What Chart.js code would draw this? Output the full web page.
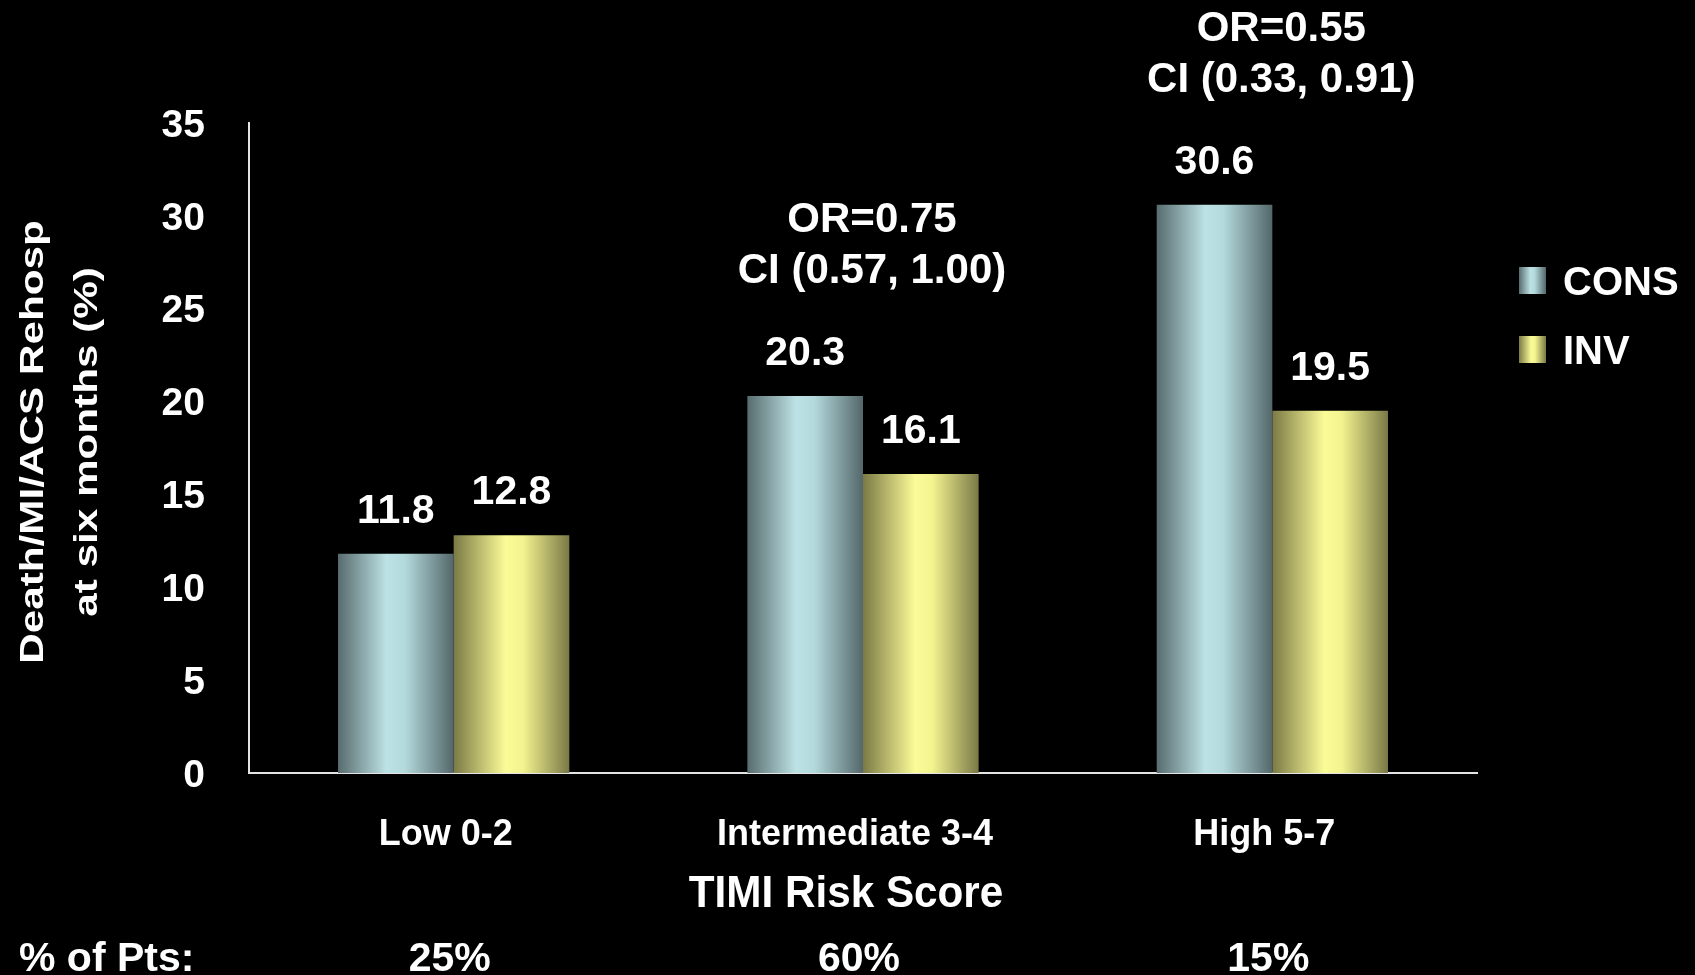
<!DOCTYPE html>
<html>
<head>
<meta charset="utf-8">
<title>TIMI Risk Score – Death/MI/ACS Rehosp</title>
<script src="https://cdn.jsdelivr.net/npm/chart.js@4.4.1/dist/chart.umd.min.js"></script>
<style>
  html, body { margin: 0; padding: 0; background: #000; }
  #wrap { width: 1695px; height: 975px; }
</style>
</head>
<body>
<div id="wrap"><canvas id="chart" width="1695" height="975"></canvas></div>
<script>
// ---- data ----
const categories = ['Low 0-2', 'Intermediate 3-4', 'High 5-7'];
const seriesNames = ['CONS', 'INV'];
const consValues = [11.8, 20.3, 30.6];
const invValues = [12.8, 16.1, 19.5];
const yMin = 0, yMax = 35, yStep = 5;
const oddsRatios = ['', 'OR=0.75', 'OR=0.55'];
const confIntervals = ['', 'CI (0.57, 1.00)', 'CI (0.33, 0.91)'];
const patientShare = ['25%', '60%', '15%'];
const shareLabel = '% of Pts:';
const xTitle = 'TIMI Risk Score';
const yTitleLines = ['Death/MI/ACS Rehosp', 'at six months (%)'];

// ---- styling ----
const FONT = '"Liberation Sans", Arial, Helvetica, sans-serif';
const AXIS_COLOR = '#e4e4e4';
const BAR_FRACTION = 0.565;
const shades = {
  CONS: [[0, '#586c6e'], [0.42, '#bde2e5'], [0.58, '#b3d9dc'], [1, '#54676a']],
  INV:  [[0, '#7b7a45'], [0.45, '#fbfb98'], [0.6, '#f3f38f'], [1, '#7a7947']]
};

function hGradient(ctx, x0, x1, stops) {
  const g = ctx.createLinearGradient(x0, 0, x1, 0);
  stops.forEach(([o, c]) => g.addColorStop(o, c));
  return g;
}

// horizontal cylinder-like shading per bar, computed from the category scale
function barFill(context) {
  const chart = context.chart;
  const stops = shades[seriesNames[context.datasetIndex]];
  const x = chart.scales && chart.scales.x;
  if (!chart.chartArea || !x || !x.width || context.dataIndex === undefined) return stops[1][1];
  const center = x.getPixelForValue(context.dataIndex);
  const groupW = (x.width / categories.length) * BAR_FRACTION;
  const barW = groupW / 2;
  const left = center - groupW / 2 + context.datasetIndex * barW;
  return hGradient(chart.ctx, left, left + barW, stops);
}

// value labels, OR/CI notes, axis titles, patient share row and legend
const overlay = {
  id: 'overlay',
  afterDatasetsDraw(chart) {
    const { ctx, scales: { x, y } } = chart;
    ctx.save();
    ctx.fillStyle = '#ffffff';
    ctx.textAlign = 'center';
    ctx.textBaseline = 'alphabetic';

    ctx.font = `bold 41px ${FONT}`;
    chart.data.datasets.forEach((ds, di) => {
      chart.getDatasetMeta(di).data.forEach((bar, i) => {
        ctx.fillText(ds.data[i].toFixed(1), bar.x, bar.y - 31);
      });
    });

    ctx.font = `bold 42px ${FONT}`;
    categories.forEach((c, i) => {
      if (!oddsRatios[i]) return;
      const top = Math.min(y.getPixelForValue(consValues[i]), y.getPixelForValue(invValues[i]));
      const cx = x.getPixelForValue(i) + 9;
      ctx.fillText(oddsRatios[i], cx, top - 164);
      ctx.fillText(confIntervals[i], cx, top - 113);
    });
    ctx.restore();
  },
  afterDraw(chart) {
    const { ctx, scales: { x } } = chart;
    ctx.save();
    ctx.fillStyle = '#ffffff';
    ctx.textBaseline = 'alphabetic';

    // x axis title
    ctx.save();
    ctx.font = `bold 44px ${FONT}`;
    ctx.textAlign = 'center';
    ctx.translate(846, 907);
    ctx.scale(0.96, 1);
    ctx.fillText(xTitle, 0, 0);
    ctx.restore();

    // y axis title, two rotated lines
    ctx.save();
    ctx.font = `bold 33px ${FONT}`;
    ctx.textAlign = 'center';
    ctx.translate(0, 442);
    ctx.rotate(-Math.PI / 2);
    ctx.scale(1.28, 1);
    ctx.fillText(yTitleLines[0], 0, 43);
    ctx.fillText(yTitleLines[1], 0, 97);
    ctx.restore();

    // share of patients row
    ctx.font = `bold 41px ${FONT}`;
    ctx.textAlign = 'left';
    ctx.fillText(shareLabel, 19, 971);
    ctx.textAlign = 'center';
    patientShare.forEach((p, i) => ctx.fillText(p, x.getPixelForValue(i) - 4, 971));

    // legend
    ctx.font = `bold 40px ${FONT}`;
    ctx.textAlign = 'left';
    seriesNames.forEach((name, i) => {
      const top = 267 + i * 69;
      ctx.fillStyle = hGradient(ctx, 1519, 1546, shades[name]);
      ctx.fillRect(1519, top, 27, 27);
      ctx.fillStyle = '#ffffff';
      ctx.fillText(name, 1563, top + 28);
    });
    ctx.restore();
  }
};

Chart.defaults.font.family = FONT;
Chart.defaults.font.weight = 'bold';
Chart.defaults.color = '#ffffff';

new Chart(document.getElementById('chart'), {
  type: 'bar',
  data: {
    labels: categories,
    datasets: [
      { label: seriesNames[0], data: consValues, backgroundColor: barFill },
      { label: seriesNames[1], data: invValues, backgroundColor: barFill }
    ]
  },
  options: {
    responsive: false,
    animation: false,
    events: [],
    datasets: {
      bar: { categoryPercentage: BAR_FRACTION, barPercentage: 1, borderWidth: 0 }
    },
    layout: { padding: { top: 123, right: 218, bottom: 122, left: 0 } },
    plugins: { legend: { display: false }, tooltip: { enabled: false } },
    scales: {
      x: {
        grid: { display: false, drawTicks: false },
        border: { display: true, color: AXIS_COLOR, width: 2 },
        ticks: { color: '#ffffff', font: { size: 36, weight: 'bold' }, padding: 40, labelOffset: -8, maxRotation: 0 },
        afterFit(scale) { scale.height = 80; }
      },
      y: {
        min: yMin, max: yMax,
        grid: { display: false, drawTicks: false },
        border: { display: true, color: AXIS_COLOR, width: 2 },
        ticks: { stepSize: yStep, color: '#ffffff', font: { size: 39, weight: 'bold' }, padding: 44, labelOffset: 3 },
        afterFit(scale) { scale.width = 249; }
      }
    }
  },
  plugins: [overlay]
});
</script>
</body>
</html>
